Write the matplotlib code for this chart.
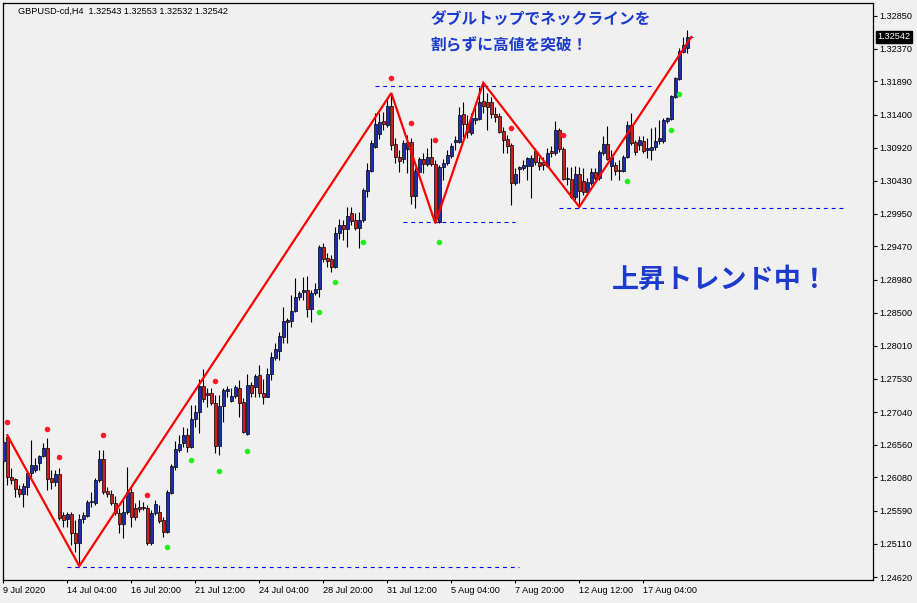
import matplotlib
matplotlib.use("Agg")
import matplotlib.pyplot as plt
import numpy as np

# ---------------- data ----------------
title_text = "GBPUSD-cd,H4  1.32543 1.32553 1.32532 1.32542"
last_price = 1.32542

opens = [1.2632, 1.2667, 1.2609, 1.2606, 1.2591, 1.2584, 1.2594, 1.2615, 1.2619, 1.2629,
         1.2640, 1.2651, 1.2607, 1.2601, 1.2613, 1.2553, 1.2547, 1.2554, 1.2527, 1.2512,
         1.2547, 1.2552, 1.2572, 1.2571, 1.2604, 1.2635, 1.2588, 1.2584, 1.2571, 1.2556,
         1.2540, 1.2557, 1.2587, 1.2563, 1.2565, 1.2563, 1.2563, 1.2512, 1.2556, 1.2557,
         1.2546, 1.2528, 1.2585, 1.2623, 1.2648, 1.2659, 1.2670, 1.2653, 1.2694, 1.2704,
         1.2742, 1.2732, 1.2732, 1.2717, 1.2654, 1.2713, 1.2735, 1.2720, 1.2728, 1.2739,
         1.2719, 1.2672, 1.2744, 1.2741, 1.2758, 1.2732, 1.2726, 1.2760, 1.2783, 1.2794,
         1.2814, 1.2836, 1.2838, 1.2852, 1.2873, 1.2880, 1.2883, 1.2855, 1.2879, 1.2885,
         1.2946, 1.2930, 1.2929, 1.2917, 1.2967, 1.2978, 1.2973, 1.2996, 1.2986, 1.2974,
         1.2986, 1.3028, 1.3058, 1.3093, 1.3112, 1.3131, 1.3125, 1.3153, 1.3097, 1.3078,
         1.3075, 1.3090, 1.3100, 1.3021, 1.3056, 1.3075, 1.3068, 1.3078, 1.3068, 1.2983,
         1.3063, 1.3069, 1.3080, 1.3100, 1.3100, 1.3141, 1.3127, 1.3113, 1.3132, 1.3134,
         1.3160, 1.3159, 1.3159, 1.3141, 1.3138, 1.3116, 1.3105, 1.3096, 1.3040, 1.3061,
         1.3062, 1.3065, 1.3065, 1.3087, 1.3071, 1.3071, 1.3065, 1.3087, 1.3084, 1.3118,
         1.3090, 1.3047, 1.3046, 1.3019, 1.3053, 1.3043, 1.3027, 1.3040, 1.3056, 1.3047,
         1.3084, 1.3097, 1.3065, 1.3066, 1.3059, 1.3058, 1.3078, 1.3125, 1.3100, 1.3096,
         1.3102, 1.3088, 1.3088, 1.3093, 1.3102, 1.3102, 1.3131, 1.3134, 1.3166, 1.3193,
         1.3232, 1.3238, 1.32543]

closes = [1.2660, 1.2609, 1.2604, 1.2591, 1.2584, 1.2596, 1.2615, 1.2626, 1.2626, 1.2640,
          1.2651, 1.2606, 1.2601, 1.2613, 1.2549, 1.2546, 1.2554, 1.2527, 1.2512, 1.2547,
          1.2553, 1.2572, 1.2574, 1.2604, 1.2635, 1.2587, 1.2584, 1.2571, 1.2556, 1.2540,
          1.2557, 1.2587, 1.2550, 1.2550, 1.2562, 1.2565, 1.2512, 1.2556, 1.2569, 1.2544,
          1.2528, 1.2587, 1.2625, 1.2650, 1.2657, 1.2670, 1.2653, 1.2694, 1.2704, 1.2742,
          1.2723, 1.2729, 1.2717, 1.2654, 1.2713, 1.2736, 1.2738, 1.2728, 1.2741, 1.2717,
          1.2675, 1.2744, 1.2732, 1.2757, 1.2732, 1.2726, 1.2760, 1.2785, 1.2796, 1.2816,
          1.2838, 1.2839, 1.2852, 1.2873, 1.2879, 1.2883, 1.2855, 1.2879, 1.2885, 1.2946,
          1.2929, 1.2926, 1.2917, 1.2967, 1.2978, 1.2973, 1.2992, 1.2984, 1.2974, 1.2986,
          1.3030, 1.3059, 1.3099, 1.3127, 1.3130, 1.3127, 1.3153, 1.3096, 1.3078, 1.3072,
          1.3099, 1.3100, 1.3021, 1.3058, 1.3075, 1.3068, 1.3078, 1.3068, 1.2990, 1.3063,
          1.3069, 1.3081, 1.3094, 1.3103, 1.3140, 1.3127, 1.3115, 1.3135, 1.3135, 1.3159,
          1.3153, 1.3152, 1.3141, 1.3137, 1.3115, 1.3103, 1.3094, 1.3040, 1.3053, 1.3063,
          1.3066, 1.3077, 1.3077, 1.3071, 1.3065, 1.3066, 1.3084, 1.3084, 1.3118, 1.3090,
          1.3046, 1.3046, 1.3019, 1.3053, 1.3028, 1.3027, 1.3041, 1.3056, 1.3047, 1.3085,
          1.3097, 1.3075, 1.3078, 1.3058, 1.3058, 1.3078, 1.3125, 1.3099, 1.3085, 1.3103,
          1.3087, 1.3091, 1.3093, 1.3102, 1.3106, 1.3132, 1.3135, 1.3168, 1.3194, 1.3234,
          1.3242, 1.3254, 1.32542]

highs = [1.2666, 1.2670, 1.2622, 1.2607, 1.2597, 1.2600, 1.2618, 1.2663, 1.2637, 1.2641,
         1.2659, 1.2666, 1.2619, 1.2619, 1.2622, 1.2557, 1.2557, 1.2557, 1.2546, 1.2554,
         1.2557, 1.2575, 1.2587, 1.2607, 1.2648, 1.2648, 1.2594, 1.2590, 1.2581, 1.2563,
         1.2575, 1.2623, 1.2594, 1.2571, 1.2575, 1.2572, 1.2568, 1.2560, 1.2575, 1.2568,
         1.2550, 1.2590, 1.2628, 1.2662, 1.2670, 1.2682, 1.2681, 1.2714, 1.2714, 1.2752,
         1.2767, 1.2739, 1.2739, 1.2729, 1.2729, 1.2739, 1.2742, 1.2739, 1.2744, 1.2751,
         1.2725, 1.2760, 1.2748, 1.2760, 1.2773, 1.2752, 1.2769, 1.2792, 1.2805, 1.2821,
         1.2858, 1.2842, 1.2876, 1.2901, 1.2882, 1.2902, 1.2904, 1.2883, 1.2893, 1.2949,
         1.2952, 1.2937, 1.2934, 1.2975, 1.2987, 1.2986, 1.3005, 1.3005, 1.2996, 1.2997,
         1.3033, 1.3069, 1.3103, 1.3143, 1.3143, 1.3144, 1.3166, 1.3172, 1.3106, 1.3088,
         1.3103, 1.3110, 1.3106, 1.3062, 1.3078, 1.3084, 1.3091, 1.3106, 1.3074, 1.3066,
         1.3075, 1.3088, 1.3099, 1.3109, 1.3152, 1.3159, 1.3140, 1.3143, 1.3157, 1.3181,
         1.3187, 1.3172, 1.3166, 1.3152, 1.3143, 1.3122, 1.3110, 1.3099, 1.3062, 1.3065,
         1.3074, 1.3078, 1.3081, 1.3091, 1.3078, 1.3078, 1.3091, 1.3094, 1.3131, 1.3121,
         1.3093, 1.3063, 1.3063, 1.3065, 1.3063, 1.3062, 1.3047, 1.3062, 1.3062, 1.3088,
         1.3109, 1.3124, 1.3088, 1.3071, 1.3074, 1.3081, 1.3131, 1.3143, 1.3103, 1.3109,
         1.3109, 1.3106, 1.3121, 1.3122, 1.3132, 1.3135, 1.3137, 1.3169, 1.3196, 1.3238,
         1.3254, 1.3264, 1.32553]

lows = [1.2629, 1.2597, 1.2598, 1.2579, 1.2579, 1.2565, 1.2582, 1.2609, 1.2616, 1.2619,
        1.2638, 1.2590, 1.2591, 1.2596, 1.2546, 1.2535, 1.2535, 1.2509, 1.2499, 1.2478,
        1.2541, 1.2550, 1.2565, 1.2568, 1.2601, 1.2584, 1.2579, 1.2568, 1.2553, 1.2527,
        1.2519, 1.2554, 1.2535, 1.2546, 1.2557, 1.2560, 1.2509, 1.2509, 1.2553, 1.2541,
        1.2521, 1.2527, 1.2584, 1.2619, 1.2645, 1.2653, 1.2645, 1.2651, 1.2682, 1.2673,
        1.2719, 1.2711, 1.2714, 1.2644, 1.2641, 1.2689, 1.2726, 1.2719, 1.2725, 1.2697,
        1.2673, 1.2670, 1.2726, 1.2726, 1.2726, 1.2716, 1.2726, 1.2751, 1.2780, 1.2780,
        1.2805, 1.2805, 1.2829, 1.2851, 1.2868, 1.2868, 1.2843, 1.2836, 1.2876, 1.2873,
        1.2924, 1.2917, 1.2909, 1.2915, 1.2958, 1.2956, 1.2946, 1.2978, 1.2971, 1.2945,
        1.2983, 1.3019, 1.3056, 1.3091, 1.3105, 1.3118, 1.3122, 1.3088, 1.3069, 1.3056,
        1.3069, 1.3055, 1.3009, 1.3003, 1.3055, 1.3055, 1.3065, 1.3065, 1.2981, 1.2981,
        1.3044, 1.3066, 1.3077, 1.3088, 1.3099, 1.3107, 1.3106, 1.3110, 1.3127, 1.3132,
        1.3143, 1.3118, 1.3135, 1.3130, 1.3113, 1.3084, 1.3084, 1.3008, 1.3037, 1.3040,
        1.3059, 1.3044, 1.3018, 1.3066, 1.3059, 1.3059, 1.3063, 1.3078, 1.3081, 1.3085,
        1.3044, 1.3037, 1.3018, 1.3015, 1.3005, 1.3022, 1.3022, 1.3037, 1.3044, 1.3044,
        1.3081, 1.3074, 1.3044, 1.3052, 1.3044, 1.3056, 1.3077, 1.3096, 1.3081, 1.3088,
        1.3084, 1.3077, 1.3074, 1.3088, 1.3097, 1.3099, 1.3128, 1.3132, 1.3165, 1.3191,
        1.3231, 1.3231, 1.32532]

# fractal-style dots
up_dot_bars = [1, 11, 14, 25, 36, 53, 97, 102, 108, 127, 140]
up_dot_prices = [1.2689, 1.2679, 1.2638, 1.2670, 1.2582, 1.2750, 1.3194, 1.3128, 1.3103, 1.3121, 1.3110]
down_dot_bars = [41, 47, 54, 61, 79, 83, 90, 109, 156, 167, 169]
down_dot_prices = [1.2506, 1.2634, 1.2618, 1.2647, 1.2851, 1.2895, 1.2953, 1.2953, 1.3043, 1.3118, 1.3171]

# zigzag swing points (bar index, which price)
zz_bars = [1, 19, 97, 108, 120, 144, 172]
zz_kind = ["H", "L", "H", "L", "H", "L", "C"]

# horizontal dashed levels
level_prices = [1.2477, 1.3182, 1.2983, 1.3003]
level_start = [16, 93, 100, 139]
level_end = [129, 163, 128, 210]

xtick_bars = [0, 16, 32, 48, 64, 80, 96, 112, 128, 144, 160]
xtick_labels = ["9 Jul 2020", "14 Jul 04:00", "16 Jul 20:00", "21 Jul 12:00", "24 Jul 04:00",
                "28 Jul 20:00", "31 Jul 12:00", "5 Aug 04:00", "7 Aug 20:00", "12 Aug 12:00",
                "17 Aug 04:00"]
ytick_values = [1.32850, 1.32370, 1.31890, 1.31400, 1.30920, 1.30430, 1.29950, 1.29470, 1.28980,
                1.28500, 1.28010, 1.27530, 1.27040, 1.26560, 1.26080, 1.25590, 1.25110, 1.24620]

note_line1 = "ダブルトップでネックラインを"
note_line2 = "割らずに高値を突破！"
note_big = "上昇トレンド中！"

# ---------------- drawing ----------------
W, H, DPI = 917, 603, 100
BG = "#f0f0f0"
UP_COL = "#1c2cb4"
DN_COL = "#d01c1c"
TXT_BLUE = "#1d3ccd"
TICK_FONT = "Liberation Sans"

fig = plt.figure(figsize=(W / DPI, H / DPI), dpi=DPI, facecolor=BG)
ax = fig.add_axes([2.5 / W, (H - 580) / H, 870 / W, 577.5 / H])
ax.set_facecolor(BG)

o = np.array(opens); c = np.array(closes); hi = np.array(highs); lo = np.array(lows)
x = np.arange(len(o))
up = c >= o

# wicks
ax.vlines(x, lo, hi, color="black", linewidth=0.8, zorder=2)
# bodies
body_bottom = np.minimum(o, c)
body_h = np.maximum(np.abs(c - o), 0.00004)
ax.bar(x[up], body_h[up], bottom=body_bottom[up], width=0.72,
       color=UP_COL, edgecolor="black", linewidth=0.5, zorder=3)
ax.bar(x[~up], body_h[~up], bottom=body_bottom[~up], width=0.72,
       color=DN_COL, edgecolor="black", linewidth=0.5, zorder=3)

# dashed levels
for p, s, e in zip(level_prices, level_start, level_end):
    ax.plot([s, e], [p, p], color="#0000ff", linewidth=0.8,
            linestyle=(0, (3.5, 3.5)), zorder=1.5)

# zigzag
zz_prices = []
for b, k in zip(zz_bars, zz_kind):
    zz_prices.append(hi[b] if k == "H" else lo[b] if k == "L" else c[b])
ax.plot(zz_bars, zz_prices, color="#ff0000", linewidth=1.6, zorder=4,
        solid_joinstyle="miter")

# dots
ax.scatter(up_dot_bars, up_dot_prices, s=16, color="#ff1a2a", zorder=5, linewidths=0)
ax.scatter(down_dot_bars, down_dot_prices, s=16, color="#22ee22", zorder=5, linewidths=0)

# axes limits
ax.set_xlim(-0.2, 217.3)
ax.set_ylim(1.24576, 1.33048)

for sp in ax.spines.values():
    sp.set_color("black")
    sp.set_linewidth(0.9)

ax.yaxis.tick_right()
ax.set_yticks(ytick_values)
ax.set_yticklabels([f"{v:.5f}" for v in ytick_values], fontsize=6.6, family=TICK_FONT)
ax.tick_params(axis="y", direction="out", length=3, width=0.8, pad=2, colors="black")
ax.set_xticks(xtick_bars)
ax.set_xticklabels(xtick_labels, fontsize=6.6, family=TICK_FONT, ha="left")
ax.tick_params(axis="x", direction="out", length=2.5, width=0.8, pad=2, colors="black")
for lbl in ax.get_xticklabels():
    lbl.set_horizontalalignment("left")

# current price box
ax.annotate(f"{last_price:.5f}", xy=(1, last_price), xycoords=("axes fraction", "data"),
            xytext=(3.5, 0), textcoords="offset points", ha="left", va="center",
            fontsize=6.6, family=TICK_FONT, color="white",
            bbox=dict(boxstyle="square,pad=0.18", fc="black", ec="black"))

# title text
fig.text(18 / W, 1 - 11 / H, title_text, fontsize=6.6, family=TICK_FONT,
         color="black", ha="left", va="center")

# annotations
jp = ["Noto Sans CJK JP", "DejaVu Sans"]
fig.text(430 / W, 1 - 20 / H, note_line1, fontsize=11.3, family=jp, weight="bold",
         color=TXT_BLUE, ha="left", va="center")
fig.text(430 / W, 1 - 45 / H, note_line2, fontsize=11.3, family=jp, weight="bold",
         color=TXT_BLUE, ha="left", va="center")
fig.text(612 / W, 1 - 280 / H, note_big, fontsize=19.5, family=jp, weight="bold",
         color=TXT_BLUE, ha="left", va="center")

fig.savefig("out.png", dpi=DPI, facecolor=BG)
